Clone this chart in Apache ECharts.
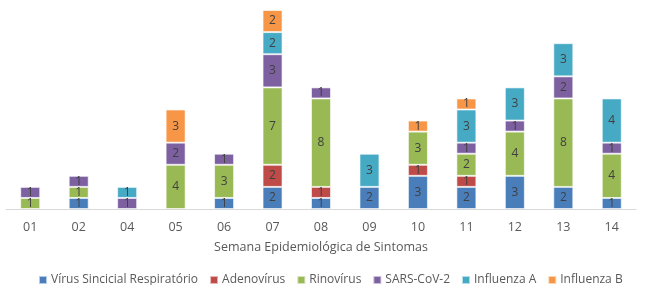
<!DOCTYPE html>
<html>
<head>
<meta charset="utf-8">
<script src="https://cdn.jsdelivr.net/npm/echarts@6/dist/echarts.min.js"></script>
<style>
  html, body { margin: 0; padding: 0; background: #fff; }
  #chart { width: 649px; height: 285px; }
</style>
</head>
<body>
<div id="chart"></div>
<script>
  // semanas epidemiológicas
  var weeks = ['01', '02', '04', '05', '06', '07', '08', '09', '10', '11', '12', '13', '14']
  // valores por vírus (null = sem casos)
  var vsr      = [null, 1, null, null, 1, 2, 1, 2, 3, 2, 3, 2, 1]
  var adeno    = [null, null, null, null, null, 2, 1, null, 1, 1, null, null, null]
  var rino     = [1, 1, null, 4, 3, 7, 8, null, 3, 2, 4, 8, 4]
  var sars     = [1, 1, 1, 2, 1, 3, 1, null, null, 1, 1, 2, 1]
  var fluA     = [null, null, 1, null, null, 2, null, 3, null, 3, 3, 3, 4]
  var fluB     = [null, null, null, 3, null, 2, null, null, 1, 1, null, null, null]

  var seriesDefs = [
    { name: 'Vírus Sincicial Respiratório', data: vsr, color: '#4a7ebb' },
    { name: 'Adenovírus', data: adeno, color: '#be4b48' },
    { name: 'Rinovírus', data: rino, color: '#98b954' },
    { name: 'SARS-CoV-2', data: sars, color: '#7d60a0' },
    { name: 'Influenza A', data: fluA, color: '#46aac5' },
    { name: 'Influenza B', data: fluB, color: '#f79646' }
  ]

  var font = '"Open Sans", "Noto Sans", sans-serif'
  var chart = echarts.init(document.getElementById('chart'))

  chart.setOption({
    animation: false,
    grid: { left: 6, right: 13, top: 10, bottom: 76 },
    legend: {
      top: 274,
      left: 38,
      padding: 0,
      itemWidth: 8,
      itemHeight: 8,
      itemGap: 11,
      icon: 'rect',
      textStyle: { fontFamily: font, fontSize: 12, color: '#595959', padding: [0, 0, 0, -1] },
      data: seriesDefs.map(function (s) { return s.name })
    },
    xAxis: {
      type: 'category',
      data: weeks,
      name: 'Semana Epidemiológica de Sintomas',
      nameLocation: 'middle',
      nameGap: 32,
      nameTextStyle: { fontFamily: font, fontSize: 12.5, color: '#595959' },
      axisLine: { lineStyle: { color: '#d9d9d9', width: 1 } },
      axisTick: { show: false },
      axisLabel: { fontFamily: font, fontSize: 12.5, color: '#595959', margin: 12 }
    },
    yAxis: {
      type: 'value',
      min: 0,
      max: 18,
      show: false,
      splitLine: { show: false }
    },
    series: seriesDefs.map(function (s) {
      return {
        name: s.name,
        type: 'bar',
        stack: 'total',
        barWidth: 20,
        data: s.data,
        itemStyle: { color: s.color, borderColor: 'rgba(255,255,255,0.6)', borderWidth: 1 },
        label: {
          show: true,
          position: 'inside',
          fontFamily: font,
          fontSize: 12,
          color: '#404040'
        }
      }
    })
  })
</script>
</body>
</html>
